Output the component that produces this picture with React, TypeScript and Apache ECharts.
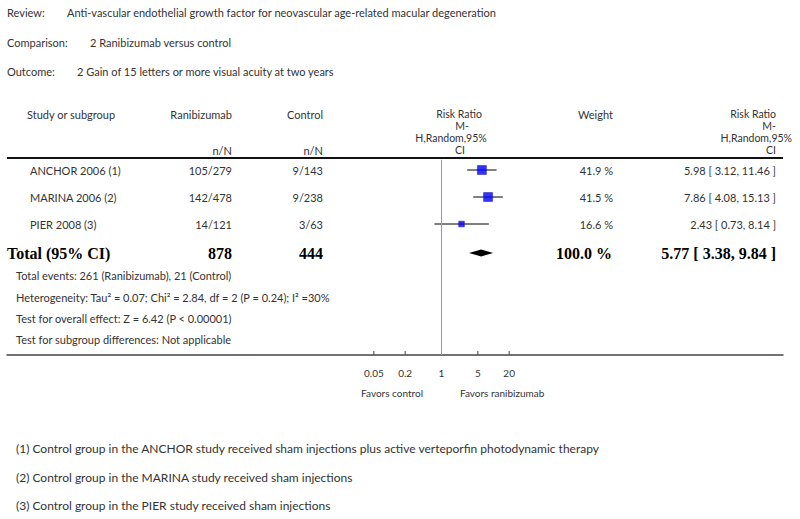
import React, { useEffect, useRef } from "react";
import * as echarts from "echarts";

// ---------- data ----------
const reviewTitle = "Anti-vascular endothelial growth factor for neovascular age-related macular degeneration";
const comparisonTitle = "2 Ranibizumab versus control";
const outcomeTitle = "2 Gain of 15 letters or more visual acuity at two years";

const studies = ["ANCHOR 2006 (1)", "MARINA 2006 (2)", "PIER 2008 (3)"];
const ranEvents = [105, 142, 14];
const ranTotals = [279, 478, 121];
const ctrlEvents = [9, 9, 3];
const ctrlTotals = [143, 238, 63];
const weights = [41.9, 41.5, 16.6];
const riskRatios = [5.98, 7.86, 2.43];
const ciLow = [3.12, 4.08, 0.73];
const ciHigh = [11.46, 15.13, 8.14];

const totalRan = 878;
const totalCtrl = 444;
const totalWeight = 100.0;
const totalRR = 5.77;
const totalLow = 3.38;
const totalHigh = 9.84;

const summaryLines = [
  "Total events: 261 (Ranibizumab), 21 (Control)",
  "Heterogeneity: Tau\u00b2 = 0.07; Chi\u00b2 = 2.84, df = 2 (P = 0.24); I\u00b2 =30%",
  "Test for overall effect: Z = 6.42 (P < 0.00001)",
  "Test for subgroup differences: Not applicable",
];

const tickValues = [0.05, 0.2, 1, 5, 20];
const tickLabels = ["0.05", "0.2", "1", "5", "20"];

const footnotes = [
  "(1) Control group in the ANCHOR study received sham injections plus active verteporfin photodynamic therapy",
  "(2) Control group in the MARINA study received sham injections",
  "(3) Control group in the PIER study received sham injections",
];

// ---------- layout ----------
const SANS = "Lato";
const SERIF = "Liberation Serif";
const TXT = "#333";
const X_LEFT = 7;
const X_RIGHT = 783;
const X_ONE = 441.5;
const PX_PER_DECADE = 52;
const ROW_Y0 = 170;
const ROW_STEP = 27;
const AXIS_Y = 355;
const Y_MIN = -0.5;
const Y_MAX = (AXIS_Y - ROW_Y0) / ROW_STEP;
const TOTAL_ROW = 3.07;

function txt(x: number, y: number, text: string, o: any = {}) {
  return {
    type: "text",
    x,
    y,
    silent: true,
    style: {
      text,
      fill: o.fill || TXT,
      fontSize: o.size || 11,
      fontFamily: o.family || SANS,
      fontWeight: o.weight || "normal",
      align: o.align || "left",
      verticalAlign: "middle",
    },
  };
}

function fmtRR(r: number, l: number, h: number) {
  return `${r.toFixed(2)} [ ${l.toFixed(2)}, ${h.toFixed(2)} ]`;
}

export default function App() {
  const ref = useRef<HTMLDivElement>(null);
  useEffect(() => {
    if (!ref.current) return;
    const chart = echarts.init(ref.current, undefined, { renderer: "svg" });

    const g: any[] = [];
    // title block
    g.push(txt(7, 12, "Review:"));
    g.push(txt(67, 12, reviewTitle));
    g.push(txt(7, 42, "Comparison:"));
    g.push(txt(90, 42, comparisonTitle));
    g.push(txt(7, 71, "Outcome:"));
    g.push(txt(77, 71, outcomeTitle));

    // header
    g.push(txt(27, 114, "Study or subgroup"));
    g.push(txt(232, 114, "Ranibizumab", { align: "right" }));
    g.push(txt(323, 114, "Control", { align: "right" }));
    g.push(txt(232, 150, "n/N", { align: "right" }));
    g.push(txt(323, 150, "n/N", { align: "right" }));
    const hdr = ["Risk Ratio", "M-", "H,Random,95%", "CI"];
    const hdrY = [114, 126, 138, 150];
    const hdrCx = [459, 462, 451, 460];
    hdr.forEach((h, i) => g.push(txt(hdrCx[i], hdrY[i], h, { align: "center", size: 10.5 })));
    g.push(txt(613, 114, "Weight", { align: "right" }));
    const rightEnds = [776, 776, 792, 776];
    hdr.forEach((h, i) => g.push(txt(rightEnds[i], hdrY[i], h, { align: "right", size: 10.5 })));

    // separator
    g.push({
      type: "line",
      silent: true,
      shape: { x1: X_LEFT, y1: 158, x2: X_RIGHT, y2: 158 },
      style: { stroke: "#111", lineWidth: 2 },
    });

    // study rows
    studies.forEach((s, i) => {
      const y = ROW_Y0 + ROW_STEP * i;
      g.push(txt(30, y, s));
      g.push(txt(232, y, `${ranEvents[i]}/${ranTotals[i]}`, { align: "right" }));
      g.push(txt(323, y, `${ctrlEvents[i]}/${ctrlTotals[i]}`, { align: "right" }));
      g.push(txt(613, y, `${weights[i].toFixed(1)} %`, { align: "right" }));
      g.push(txt(776, y, fmtRR(riskRatios[i], ciLow[i], ciHigh[i]), { align: "right" }));
    });

    // total row
    const ty = 253;
    const bold = { family: SERIF, weight: "bold", size: 16, fill: "#000" };
    g.push(txt(7, ty, "Total (95% CI)", bold));
    g.push(txt(232, ty, `${totalRan}`, { ...bold, align: "right" }));
    g.push(txt(323, ty, `${totalCtrl}`, { ...bold, align: "right" }));
    g.push(txt(612, ty, `${totalWeight.toFixed(1)} %`, { ...bold, align: "right" }));
    g.push(txt(776, ty, fmtRR(totalRR, totalLow, totalHigh), { ...bold, align: "right" }));

    const sumY = [275, 297, 318, 339];
    summaryLines.forEach((s, i) => g.push(txt(16, sumY[i], s)));

    // favors
    g.push(txt(423, 393, "Favors control", { align: "right", size: 10 }));
    g.push(txt(460, 393, "Favors ranibizumab", { size: 10 }));

    // footnotes
    const fnY = [448, 477, 505];
    footnotes.forEach((f, i) => g.push(txt(16, fnY[i], f, { size: 12 })));

    const xMin = Math.pow(10, (X_LEFT - X_ONE) / PX_PER_DECADE);
    const xMax = Math.pow(10, (X_RIGHT - X_ONE) / PX_PER_DECADE);

    const rows = studies.map((_, i) => i);

    chart.setOption({
      animation: false,
      grid: {
        left: X_LEFT,
        right: 800 - X_RIGHT,
        top: ROW_Y0 + Y_MIN * ROW_STEP,
        bottom: 519 - AXIS_Y,
      },
      xAxis: {
        type: "log",
        logBase: 10,
        min: xMin,
        max: xMax,
        position: "bottom",
        axisLine: { show: true, onZero: false, lineStyle: { color: "#444", width: 1.5 } },
        axisTick: { show: false },
        axisLabel: { show: false },
        splitLine: { show: false },
      },
      yAxis: {
        type: "value",
        inverse: true,
        min: Y_MIN,
        max: Y_MAX,
        show: false,
        splitLine: { show: false },
      },
      series: [
        {
          type: "custom",
          name: "ci",
          data: rows.map((i) => [ciLow[i], ciHigh[i], i]),
          renderItem: (params: any, api: any) => {
            const a = api.coord([api.value(0), api.value(2)]);
            const b = api.coord([api.value(1), api.value(2)]);
            return {
              type: "line",
              shape: { x1: a[0], y1: a[1], x2: b[0], y2: b[1] },
              style: { stroke: "#000", lineWidth: 1 },
            };
          },
          markLine: {
            silent: true,
            symbol: "none",
            label: { show: false },
            lineStyle: { color: "#999", width: 1, type: "solid" },
            data: [[{ coord: [1, -0.38] }, { coord: [1, Y_MAX] }]],
          },
        },
        {
          type: "scatter",
          name: "rr",
          symbol: "rect",
          data: rows.map((i) => [riskRatios[i], i, weights[i]]),
          symbolSize: (v: any) => 1.4 * Math.sqrt(v[2]),
          itemStyle: { color: "#0000ff", borderColor: "#00008b", borderWidth: 0.5 },
        },
        {
          type: "custom",
          name: "total",
          data: [[totalLow, totalRR, totalHigh, TOTAL_ROW]],
          renderItem: (params: any, api: any) => {
            const y = api.value(3);
            const l = api.coord([api.value(0), y]);
            const m = api.coord([api.value(1), y]);
            const h = api.coord([api.value(2), y]);
            return {
              type: "polygon",
              shape: {
                points: [
                  [l[0], l[1]],
                  [m[0], m[1] - 3.5],
                  [h[0], h[1]],
                  [m[0], m[1] + 3.5],
                ],
              },
              style: { fill: "#000" },
            };
          },
        },
        {
          type: "custom",
          name: "ticks",
          data: tickValues.map((v, i) => [v, i]),
          clip: false,
          renderItem: (params: any, api: any) => {
            const p = api.coord([api.value(0), Y_MAX]);
            const idx = api.value(1);
            return {
              type: "group",
              children: [
                {
                  type: "line",
                  shape: { x1: p[0], y1: p[1], x2: p[0], y2: p[1] - 4 },
                  style: { stroke: "#444", lineWidth: 1 },
                },
                {
                  type: "text",
                  x: p[0],
                  y: p[1] + 18,
                  style: {
                    text: tickLabels[idx],
                    fill: TXT,
                    fontSize: 10,
                    fontFamily: SANS,
                    align: "center",
                    verticalAlign: "middle",
                  },
                },
              ],
            };
          },
        },
      ],
      graphic: { elements: g },
    });

    return () => chart.dispose();
  }, []);

  return (
    <div
      ref={ref}
      style={{ position: "fixed", left: 0, top: 0, width: 800, height: 519, background: "#fff" }}
    />
  );
}
